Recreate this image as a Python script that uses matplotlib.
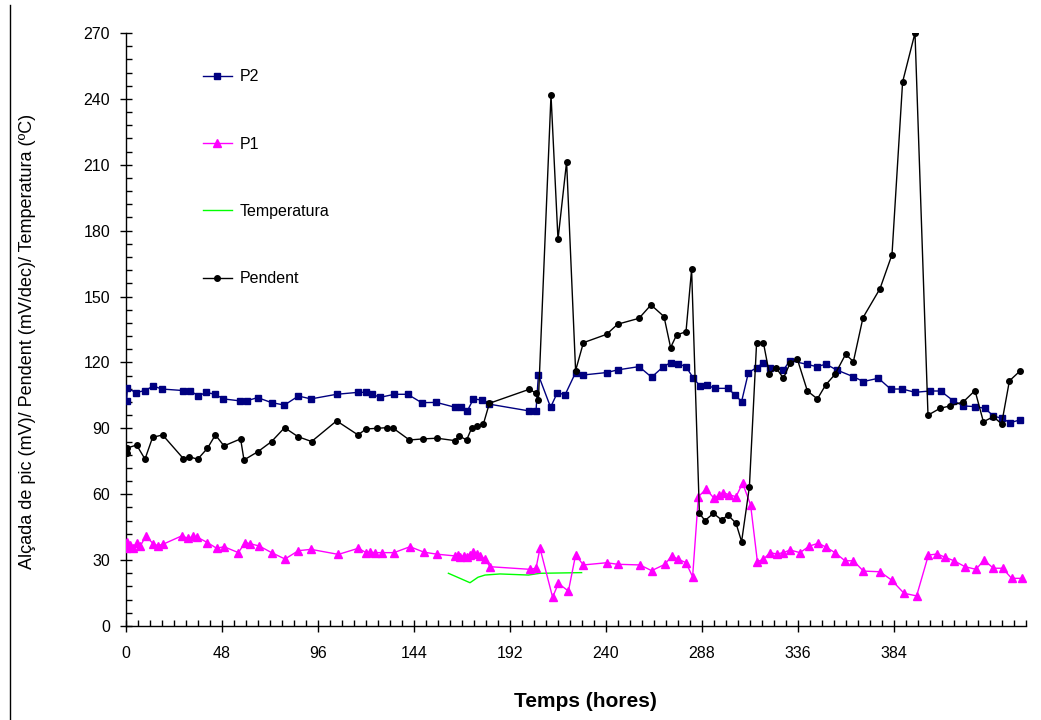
import matplotlib
matplotlib.use("Agg")
import matplotlib.pyplot as plt
from matplotlib.lines import Line2D
from matplotlib.ticker import MultipleLocator

plt.rcParams['font.family'] = ['Liberation Sans', 'DejaVu Sans']

# hours, values
p2_t = [0.3, 0.7, 5, 9.5, 13.7, 17.8, 28.7, 32, 36.2, 40, 44.5, 48.7, 57, 60.3,
        65.8, 72.8, 79.2, 86.2, 92.5, 105.3, 116.2, 120, 123.2, 127, 134.2, 140.8,
        147.8, 155.2, 164.5, 167.5, 170.7, 173.7, 177.8, 181.7, 201.7, 205, 206.2,
        212.3, 215.7, 219.5, 224.8, 228.7, 240.3, 245.8, 256.5, 262.8, 268.7, 272.3,
        276.2, 280, 283.7, 287, 290.3, 294.5, 301, 304.5, 307.8, 311.2, 315.3, 318.7,
        322, 328.7, 332, 340.3, 345.3, 350, 355.3, 363.7, 368.7, 376.2, 382.3, 388.2,
        394.5, 402, 407.3, 413.7, 418.7, 424.5, 429.5, 433.7, 437.8, 442, 447]
p2_v = [102.6, 108.2, 106.3, 107.2, 109.3, 107.9, 107.2, 107.2, 104.7, 106.4, 105.5,
        103.4, 102.5, 102.5, 104, 101.7, 100.6, 104.7, 103.4, 105.5, 106.4, 106.4,
        105.5, 104.1, 105.5, 105.5, 101.7, 101.8, 99.6, 99.6, 98, 103.4, 102.9, 101,
        97.9, 97.9, 114.3, 99.6, 106.3, 105.2, 115.4, 114.3, 115.4, 116.6, 118.1,
        113.3, 118.1, 119.9, 119.3, 118.1, 112.8, 109.3, 109.7, 108.2, 108.2, 105.2,
        102.2, 115.4, 117.6, 119.9, 117.6, 116.6, 120.8, 119.2, 118.1, 119.2, 116.6,
        113.5, 111.3, 112.8, 107.9, 107.9, 106.4, 107, 107, 102.5, 100.2, 99.9, 99.1,
        95.6, 94.6, 92.6, 93.8]

p1_t = [0, 0.7, 2, 3.5, 5.3, 7, 10, 13.7, 16, 18.7, 27.8, 31.2, 33.5, 35.7, 40.7,
        45.3, 49, 56.2, 59.5, 62, 66.7, 72.8, 79.5, 86.2, 92.5, 106.2, 116.2, 120,
        122, 124.5, 128, 134, 142, 149, 155.5, 164.5, 166, 167, 169, 170.3, 172,
        173.7, 175.5, 177, 179.5, 182, 202, 205, 207, 213.3, 216.2, 221.2, 224.8,
        228.7, 240.3, 245.8, 257, 262.8, 269.5, 272.8, 276.2, 280, 283.3, 286.2, 290,
        294, 296.5, 298.7, 301.7, 305, 308.3, 312.3, 315.7, 318.7, 322, 325.3, 328.7,
        332, 337, 341.7, 346.2, 350, 354.5, 359.5, 363.7, 368.7, 377, 382.8, 389,
        395.3, 401.2, 405.7, 409.5, 414, 419.5, 425, 429, 433.7, 438.3, 442.8, 447.8]
p1_v = [35.4, 38.4, 36.9, 35.6, 37.7, 36.2, 41, 37.3, 36.6, 37.3, 41, 39.9, 40.8,
        40.4, 38, 35.4, 36.1, 33.4, 38, 37.5, 36.4, 33.4, 30.5, 34.3, 34.9, 32.6,
        35.4, 33.4, 33.6, 33.4, 33.4, 33.4, 36.1, 33.6, 32.7, 31.9, 32.2, 31.6, 31.9,
        31.6, 32.5, 33.8, 32.6, 31.9, 30.4, 27, 25.8, 26.3, 35.4, 13.1, 19.4, 15.9,
        32.3, 27.8, 28.8, 28.1, 27.8, 25.2, 28.1, 31.9, 30.4, 28.8, 22.4, 58.9, 62.3,
        58.2, 59.6, 60.7, 59.7, 58.9, 65, 55.1, 29.3, 30.4, 33.4, 32.8, 33.4, 34.6,
        33.4, 36.4, 37.7, 35.9, 33.4, 29.7, 29.7, 25, 24.7, 20.9, 14.9, 13.7, 32.3,
        32.8, 31.3, 29.7, 27, 25.8, 30, 26.3, 26.3, 21.7, 21.7]

temp_t = [161.2, 167, 172, 176, 179.5, 187, 201.2, 207, 227.8]
temp_v = [24, 21.7, 19.7, 22.2, 23.2, 23.7, 23.2, 24, 24.3]

pend_t = [0.3, 0.5, 5.3, 9.5, 13.3, 18.3, 28.7, 31.7, 35.8, 40.7, 44.7, 49, 57.3, 59,
          66, 72.8, 79.3, 86, 92.8, 105.3, 116, 120, 125.3, 130.3, 133.7, 141.7, 148.7,
          155.5, 164.5, 166.7, 170.3, 172.8, 175.3, 178.7, 181.7, 201.7, 205, 206.2,
          212.5, 216, 220.3, 224.8, 228.7, 240.3, 245.8, 256.5, 262.5, 269, 272.3,
          275.3, 280, 282.8, 286.7, 289.5, 293.7, 297.8, 301, 305, 307.8, 311.7, 315.3,
          318.7, 321.7, 325, 328.7, 332, 335.7, 340.7, 345.7, 349.8, 354.5, 359.8,
          363.7, 368.5, 377, 383, 388.3, 394.5, 401, 407, 412, 418.7, 424.5, 428.7,
          433.7, 437.8, 441.7, 447]
pend_v = [78.6, 81, 82.4, 76, 85.9, 87, 76.2, 77.1, 75.9, 80.9, 87, 82, 85.2, 75.6,
          79.4, 84, 90.3, 86.2, 84, 93.4, 87, 89.7, 90, 90.3, 90, 84.7, 85.2, 85.5,
          84.4, 86.5, 84.7, 90, 91, 92, 101.4, 107.8, 106, 102.9, 241.8, 176, 211.4,
          116.3, 129, 132.8, 137.4, 140.1, 146.2, 140.9, 126.8, 132.5, 134, 162.4, 51.3,
          48, 51.3, 48.3, 50.5, 46.8, 38.4, 63.4, 129, 129, 114.8, 117.6, 112.8, 119.6,
          121.4, 107, 103.4, 109.7, 114.6, 123.7, 120.4, 140.4, 153.6, 169.1, 247.7,
          270, 96, 99.1, 100.2, 102.1, 107.2, 93, 95.3, 92, 111.6, 116.1]

x_ticks = [0, 48, 96, 144, 192, 240, 288, 336, 384]

fig = plt.figure(figsize=(10.41, 7.2), dpi=100)
ax = fig.add_axes([126 / 1041, 94 / 720, 900 / 1041, 593 / 720])

ax.plot(p2_t, p2_v, color='#000080', lw=1, marker='s', ms=4.5, label='P2', zorder=3)
ax.plot(p1_t, p1_v, color='#ff00ff', lw=1, marker='^', ms=6, label='P1', zorder=3)
ax.plot(temp_t, temp_v, color='#00ff00', lw=1, label='Temperatura', zorder=2)
ax.plot(pend_t, pend_v, color='black', lw=1, marker='o', ms=4, label='Pendent', zorder=4)

ax.set_xlim(0, 450)
ax.set_ylim(0, 270)
ax.set_xticks(x_ticks)
ax.xaxis.set_minor_locator(MultipleLocator(6))
ax.yaxis.set_major_locator(MultipleLocator(30))
ax.yaxis.set_minor_locator(MultipleLocator(6))
ax.tick_params(which='major', direction='inout', length=9, width=1, labelsize=11.5, colors='black')
ax.tick_params(which='minor', direction='in', length=4, width=1)
ax.tick_params(axis='y', which='major', pad=7)
ax.tick_params(axis='x', which='major', pad=10)

for s in ['top', 'right']:
    ax.spines[s].set_visible(False)
for s in ['left', 'bottom']:
    ax.spines[s].set_linewidth(1)

ax.set_xlabel('Temps (hores)', fontsize=15, fontweight='bold')
ax.xaxis.set_label_coords(0.51, -0.112)
ax.set_ylabel('Alçada de pic (mV)/ Pendent (mV/dec)/ Temperatura (ºC)', fontsize=13)
ax.yaxis.set_label_coords(-0.1, 0.48)

ax.legend(loc='upper left', bbox_to_anchor=(0.0855, 0.939), frameon=False,
          fontsize=11.5, labelspacing=3.28, handlelength=1.8, handletextpad=0.5,
          borderpad=0, borderaxespad=0)

fig.add_artist(Line2D([10 / 1041, 10 / 1041], [0, 715 / 720], color='black', lw=1))

fig.savefig('out.png', dpi=100)
